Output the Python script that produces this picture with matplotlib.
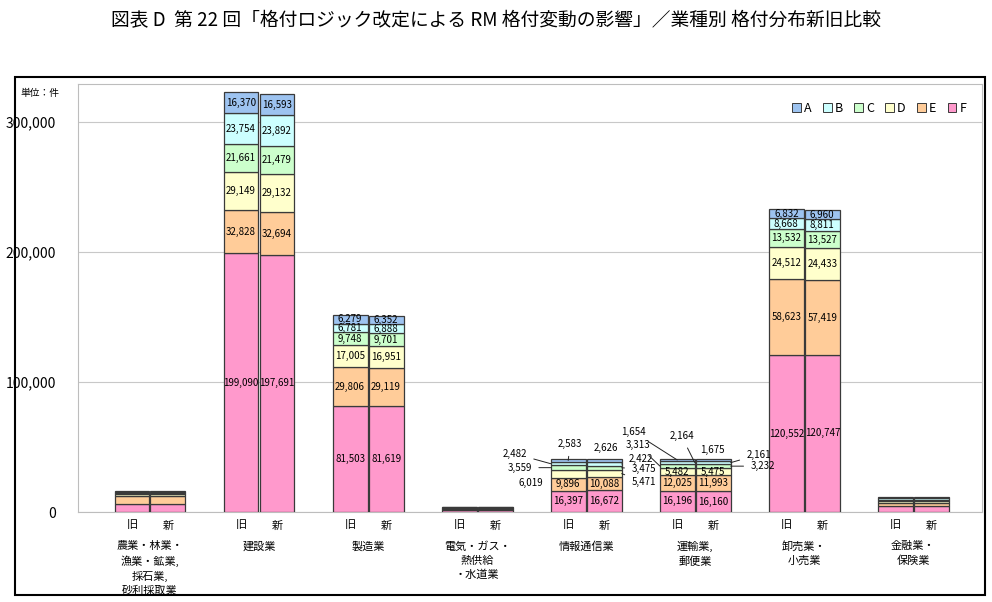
# plot.py
#
# 業種別 格付分布 新旧比較: stacked bars (A..F) per industry, old vs new logic.

import matplotlib

matplotlib.use("Agg")
import matplotlib.pyplot as plt
from matplotlib.patches import Patch, Rectangle

plt.rcParams["font.family"] = ["Noto Sans CJK JP", "DejaVu Sans"]

TITLE = "図表 D  第 22 回「格付ロジック改定による RM 格付変動の影響」／業種別 格付分布新旧比較"

industries = [
    "農業・林業・\n漁業・鉱業,\n採石業,\n砂利採取業",
    "建設業",
    "製造業",
    "電気・ガス・\n熱供給\n・水道業",
    "情報通信業",
    "運輸業,\n郵便業",
    "卸売業・\n小売業",
    "金融業・\n保険業",
]
grades = ["A", "B", "C", "D", "E", "F"]
grade_colors = ["#9DC3F0", "#CCFFFF", "#CCFFCC", "#FFFFCC", "#FFCC99", "#FF99CC"]

# counts per grade (A..F), old logic
old_counts = [
    [900, 700, 800, 1900, 6200, 5800],
    [16370, 23754, 21661, 29149, 32828, 199090],
    [6279, 6781, 9748, 17005, 29806, 81503],
    [500, 400, 400, 500, 900, 1400],
    [2583, 2482, 3559, 6019, 9896, 16397],
    [1654, 2164, 3313, 5482, 12025, 16196],
    [6832, 8668, 13532, 24512, 58623, 120552],
    [1200, 1000, 1200, 1300, 2600, 4300],
]
# counts per grade (A..F), new logic
new_counts = [
    [900, 700, 800, 1800, 5700, 6400],
    [16593, 23892, 21479, 29132, 32694, 197691],
    [6352, 6888, 9701, 16951, 29119, 81619],
    [500, 400, 400, 500, 900, 1400],
    [2626, 2422, 3475, 5471, 10088, 16672],
    [1675, 2161, 3232, 5475, 11993, 16160],
    [6960, 8811, 13527, 24433, 57419, 120747],
    [1200, 1000, 1200, 1300, 2600, 4300],
]
bar_names = ["旧", "新"]
unlabeled = {0, 3, 7}  # bars too thin for value labels

# labels placed outside the bar: (industry, bar 0=旧 1=新, grade) -> (anchor, dx, dy, leader line)
outside = {
    (4, 0, 1): ("left", -36, 10, True),
    (4, 0, 2): ("left", -31, 0, True),
    (4, 0, 3): ("left", -20, -9, False),
    (4, 0, 0): ("mid", 2, 16, True),
    (4, 1, 0): ("mid", 2, 13, False),
    (4, 1, 1): ("right", 19, 5, True),
    (4, 1, 2): ("right", 22, -1, True),
    (4, 1, 3): ("right", 22, -8, True),
    (5, 0, 0): ("mid", -44, 28, True),
    (5, 0, 2): ("left", -22, 21, True),
    (5, 0, 1): ("right", -13, 26, True),
    (5, 1, 0): ("mid", -1, 10, False),
    (5, 1, 1): ("right", 28, 8, True),
    (5, 1, 2): ("right", 32, 0, True),
}

fig = plt.figure(figsize=(9.92, 6.02), dpi=100)
ax = fig.add_axes([0.0786, 0.1495, 0.9114, 0.711])

width = 0.32
offsets = [-0.165, 0.165]

for i in range(len(industries)):
    for b, counts in enumerate([old_counts[i], new_counts[i]]):
        x = i + offsets[b]
        # draw F at the bottom up to A at the top
        bottom = 0
        for k in reversed(range(len(grades))):
            v = counts[k]
            ax.bar(x, v, width, bottom=bottom, color=grade_colors[k],
                   edgecolor="#3A3A3A", linewidth=0.9, zorder=3)
            mid = bottom + v / 2
            if i not in unlabeled:
                text = f"{v:,}"
                key = (i, b, k)
                if key in outside:
                    side, dx, dy, line = outside[key]
                    ax_x = {"left": x - width / 2, "right": x + width / 2, "mid": x}[side]
                    ax.annotate(text, xy=(ax_x, mid), xytext=(dx, dy),
                                textcoords="offset pixels", ha="center", va="center",
                                fontsize=7, zorder=5,
                                arrowprops=dict(arrowstyle="-", color="#222222", lw=0.7,
                                                shrinkA=3, shrinkB=0) if line else None)
                else:
                    ax.text(x, mid, text, ha="center", va="center", fontsize=7, zorder=5)
            bottom += v
        ax.text(x, -6500, bar_names[b], ha="center", va="top", fontsize=8)
    ax.text(i, -22500, industries[i], ha="center", va="top", fontsize=8, linespacing=1.45)

ax.set_xlim(-0.66, 7.63)
ax.set_ylim(0, 329000)
ax.set_xticks([])
ax.set_yticks([0, 100000, 200000, 300000])
ax.set_yticklabels(["0", "100,000", "200,000", "300,000"], fontsize=10)
ax.tick_params(axis="y", length=0, pad=16)
ax.grid(axis="y", color="#C8C8C8", linewidth=0.8, zorder=0)
for s in ax.spines.values():
    s.set_color("#BDBDBD")
    s.set_linewidth(0.8)

handles = [Patch(facecolor=c, edgecolor="#3A3A3A", linewidth=0.7) for c in grade_colors]
ax.legend(handles, grades, ncol=6, loc="upper right", bbox_to_anchor=(0.995, 0.985),
          frameon=False, fontsize=9, handlelength=0.7, handleheight=0.7,
          handletextpad=0.25, columnspacing=0.9)

fig.text(0.04, 0.845, "単位：件", fontsize=7, ha="center", va="center")
fig.text(0.5, 0.965, TITLE, fontsize=13.5, ha="center", va="center")

# outer black frame
fig.patches.append(Rectangle((15 / 992, 1 - 595 / 602), 970 / 992, 518 / 602,
                             transform=fig.transFigure, fill=False,
                             edgecolor="black", linewidth=1.5))

fig.savefig("out.png", dpi=100)
